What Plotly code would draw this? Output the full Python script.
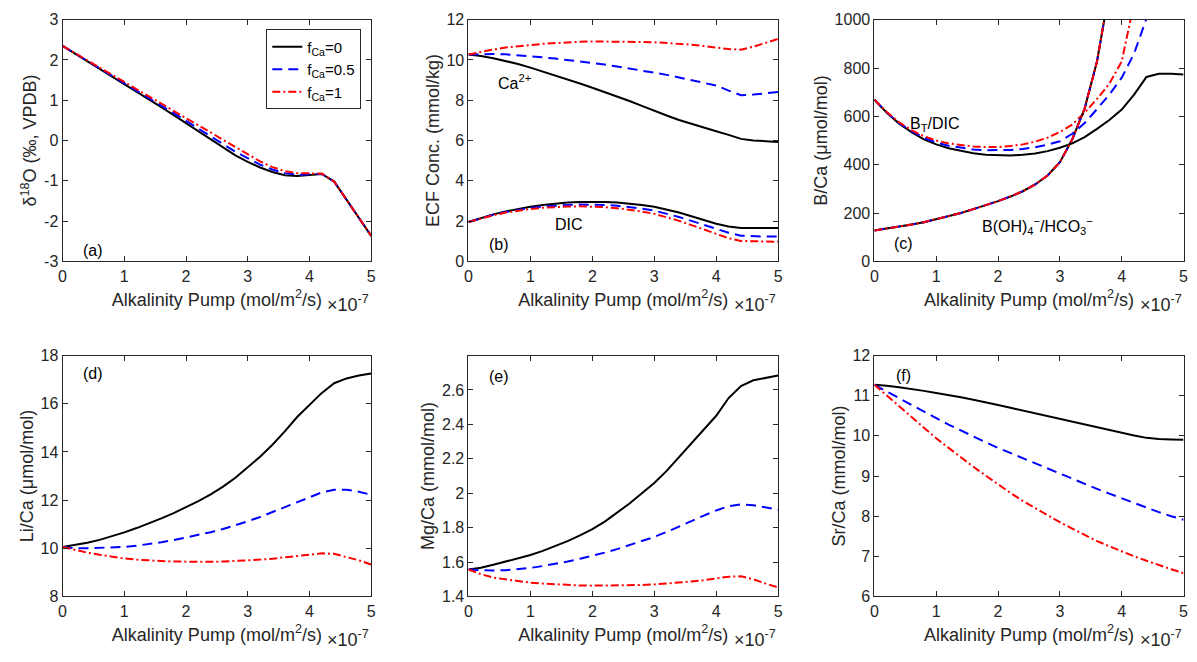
import plotly.graph_objects as go

# ---------------- data ----------------
pump = [0.0, 0.2, 0.4, 0.6, 0.8, 1.0, 1.2, 1.4, 1.6, 1.8, 2.0, 2.2, 2.4, 2.6, 2.8,
        3.0, 3.2, 3.4, 3.6, 3.8, 4.0, 4.2, 4.4, 4.6, 4.8, 5.0]
series_names = ["f<sub>Ca</sub>=0", "f<sub>Ca</sub>=0.5", "f<sub>Ca</sub>=1"]

d18o_f0 = [2.35, 2.16, 1.97, 1.79, 1.60, 1.42, 1.23, 1.03, 0.83, 0.63, 0.43, 0.22, 0.02,
           -0.17, -0.37, -0.53, -0.67, -0.78, -0.86, -0.88, -0.86, -0.83, -1.02, -1.47, -1.92, -2.37]
d18o_f05 = [2.35, 2.165, 1.98, 1.80, 1.62, 1.44, 1.25, 1.06, 0.87, 0.68, 0.49, 0.29, 0.10,
            -0.09, -0.28, -0.45, -0.60, -0.72, -0.81, -0.85, -0.84, -0.83, -1.02, -1.47, -1.92, -2.37]
d18o_f1 = [2.35, 2.17, 1.99, 1.81, 1.64, 1.46, 1.28, 1.10, 0.92, 0.74, 0.56, 0.37, 0.19,
           0.01, -0.17, -0.35, -0.52, -0.66, -0.76, -0.81, -0.82, -0.82, -1.02, -1.47, -1.92, -2.37]

ca_f0 = [10.27, 10.20, 10.09, 9.96, 9.80, 9.62, 9.43, 9.24, 9.04, 8.83, 8.62, 8.41, 8.19,
         7.96, 7.72, 7.47, 7.24, 7.02, 6.82, 6.63, 6.46, 6.28, 6.08, 6.00, 5.96, 5.93]
ca_f05 = [10.27, 10.30, 10.30, 10.28, 10.24, 10.19, 10.13, 10.07, 10.00, 9.93, 9.86, 9.77,
          9.68, 9.58, 9.48, 9.38, 9.26, 9.13, 9.00, 8.87, 8.73, 8.48, 8.25, 8.28, 8.35, 8.41]
ca_f1 = [10.27, 10.40, 10.52, 10.62, 10.69, 10.75, 10.80, 10.84, 10.88, 10.90, 10.92, 10.92,
         10.91, 10.90, 10.89, 10.88, 10.85, 10.81, 10.76, 10.69, 10.62, 10.54, 10.51, 10.66,
         10.85, 11.05]

dic_f0 = [1.95, 2.15, 2.33, 2.48, 2.60, 2.71, 2.80, 2.87, 2.92, 2.95, 2.96, 2.95, 2.92, 2.87,
          2.80, 2.71, 2.58, 2.42, 2.24, 2.05, 1.87, 1.73, 1.66, 1.65, 1.65, 1.65]
dic_f05 = [1.95, 2.14, 2.31, 2.45, 2.56, 2.65, 2.72, 2.77, 2.80, 2.82, 2.82, 2.80, 2.76, 2.70,
           2.62, 2.52, 2.37, 2.20, 2.01, 1.81, 1.61, 1.42, 1.27, 1.24, 1.23, 1.23]
dic_f1 = [1.95, 2.13, 2.29, 2.42, 2.52, 2.60, 2.66, 2.70, 2.72, 2.73, 2.72, 2.69, 2.64, 2.57,
          2.47, 2.36, 2.20, 2.01, 1.80, 1.58, 1.36, 1.15, 1.01, 0.99, 0.98, 0.97]

btdic_f0 = [669, 615, 570, 535, 505, 484, 468, 456, 447, 441, 438, 438, 441, 446, 456, 470,
            488, 514, 548, 585, 628, 690, 763, 776, 776, 773]
btdic_f05 = [669, 616, 572, 539, 511, 492, 478, 469, 463, 460, 460, 461, 465, 472, 483, 497,
             528, 572, 630, 690, 760, 860, 1005, 1180, 1380, 1600]
btdic_f1 = [669, 618, 575, 543, 518, 500, 488, 480, 475, 473, 473, 477, 484, 495, 512, 535,
            566, 615, 672, 735, 827, 1070, 1350, 1650, 1950, 2250]

bohco3_f0 = [128, 135, 143, 152, 162, 174, 186, 200, 216, 232, 249, 268, 290, 318, 355, 410,
             505, 632, 827, 1120, 1500, 1950, 2450, 3000, 3600, 4200]
bohco3_f05 = bohco3_f0
bohco3_f1 = bohco3_f0

lica_f0 = [10.05, 10.13, 10.23, 10.35, 10.50, 10.66, 10.84, 11.03, 11.24, 11.46, 11.70, 11.96,
           12.24, 12.56, 12.93, 13.35, 13.80, 14.30, 14.85, 15.45, 15.95, 16.45, 16.85, 17.05,
           17.17, 17.25]
lica_f05 = [10.05, 10.00, 10.00, 10.01, 10.03, 10.06, 10.11, 10.17, 10.25, 10.34, 10.44, 10.55,
            10.67, 10.80, 10.95, 11.12, 11.30, 11.50, 11.72, 11.93, 12.13, 12.32, 12.43, 12.43,
            12.35, 12.22]
lica_f1 = [10.05, 9.93, 9.82, 9.73, 9.65, 9.58, 9.53, 9.49, 9.47, 9.45, 9.44, 9.44, 9.44, 9.45,
           9.47, 9.50, 9.53, 9.57, 9.62, 9.68, 9.74, 9.79, 9.77, 9.65, 9.50, 9.33]

mgca_f0 = [1.557, 1.567, 1.584, 1.602, 1.620, 1.641, 1.665, 1.692, 1.722, 1.755, 1.792, 1.835,
           1.885, 1.940, 2.000, 2.060, 2.130, 2.210, 2.290, 2.370, 2.450, 2.553, 2.623, 2.656,
           2.672, 2.684]
mgca_f05 = [1.557, 1.552, 1.551, 1.553, 1.558, 1.566, 1.577, 1.589, 1.603, 1.619, 1.636, 1.655,
            1.675, 1.698, 1.721, 1.746, 1.775, 1.805, 1.838, 1.870, 1.900, 1.925, 1.935, 1.930,
            1.918, 1.905]
mgca_f1 = [1.557, 1.53, 1.51, 1.50, 1.49, 1.48, 1.475, 1.47, 1.466, 1.464, 1.463, 1.463, 1.463,
           1.465, 1.467, 1.47, 1.475, 1.48, 1.487, 1.495, 1.505, 1.515, 1.517, 1.50, 1.475, 1.452]

srca_f0 = [11.27, 11.25, 11.21, 11.17, 11.12, 11.07, 11.02, 10.96, 10.90, 10.84, 10.77, 10.70,
           10.63, 10.56, 10.49, 10.43, 10.36, 10.29, 10.22, 10.15, 10.08, 10.01, 9.95, 9.92,
           9.91, 9.90]
srca_f05 = [11.27, 11.10, 10.93, 10.77, 10.60, 10.44, 10.28, 10.13, 9.98, 9.84, 9.70, 9.57,
            9.44, 9.31, 9.18, 9.06, 8.93, 8.80, 8.68, 8.56, 8.44, 8.32, 8.20, 8.10, 8.00, 7.91]
srca_f1 = [11.27, 11.00, 10.73, 10.46, 10.20, 9.94, 9.70, 9.46, 9.23, 9.01, 8.79, 8.58, 8.38,
           8.20, 8.02, 7.85, 7.69, 7.53, 7.38, 7.25, 7.12, 7.00, 6.89, 6.78, 6.68, 6.58]

x_ticks = [0, 1, 2, 3, 4, 5]

# ---------------- styling ----------------
FONT = "Liberation Sans, Arial, Helvetica, sans-serif"
AX = "#262626"
colors = ["#000000", "#0000ff", "#ff0000"]
dashes = ["solid", "10px,6px", "8px,3px,2px,3px"]
widths = [2, 2, 2]

col_dom = [[59 / 1197, 370 / 1197], [468 / 1197, 780 / 1197], [877 / 1197, 1188.5 / 1197]]
row_dom = [[1 - 260 / 662, 1 - 12 / 662], [1 - 604 / 662, 1 - 356.7 / 662]]

fig = go.Figure()

panels = [
    ([-3, 3], [-3, -2, -1, 0, 1, 2, 3], ["-3", "-2", "-1", "0", "1", "2", "3"],
     "δ<sup>18</sup>O (‰, VPDB)"),
    ([0, 12], [0, 2, 4, 6, 8, 10, 12], None, "ECF Conc. (mmol/kg)"),
    ([0, 1000], [0, 200, 400, 600, 800, 1000], None, "B/Ca (μmol/mol)"),
    ([8, 18], [8, 10, 12, 14, 16, 18], None, "Li/Ca (μmol/mol)"),
    ([1.4, 2.8], [1.4, 1.6, 1.8, 2.0, 2.2, 2.4, 2.6],
     ["1.4", "1.6", "1.8", "2", "2.2", "2.4", "2.6"], "Mg/Ca (mmol/mol)"),
    ([6, 12], [6, 7, 8, 9, 10, 11, 12], None, "Sr/Ca (mmol/mol)"),
]

def add_series(ylists, k, legend=False):
    xa = "x" if k == 1 else f"x{k}"
    ya = "y" if k == 1 else f"y{k}"
    for i, yv in enumerate(ylists):
        fig.add_trace(go.Scatter(
            x=pump, y=yv, xaxis=xa, yaxis=ya, mode="lines",
            name=series_names[i], showlegend=legend, legendgroup=f"g{i}",
            line=dict(color=colors[i], width=widths[i], dash=dashes[i]),
        ))

add_series([d18o_f0, d18o_f05, d18o_f1], 1, legend=True)
add_series([ca_f0, ca_f05, ca_f1], 2)
add_series([dic_f0, dic_f05, dic_f1], 2)
add_series([btdic_f0, btdic_f05, btdic_f1], 3)
add_series([bohco3_f0, bohco3_f05, bohco3_f1], 3)
add_series([lica_f0, lica_f05, lica_f1], 4)
add_series([mgca_f0, mgca_f05, mgca_f1], 5)
add_series([srca_f0, srca_f05, srca_f1], 6)

layout = dict(
    width=1197, height=662,
    margin=dict(l=0, r=0, t=0, b=0),
    paper_bgcolor="white", plot_bgcolor="white",
    font=dict(family=FONT, size=16, color=AX),
    legend=dict(
        x=360 / 1197, y=1 - 22 / 662, xanchor="right", yanchor="top",
        bgcolor="white", bordercolor=AX, borderwidth=1,
        font=dict(family=FONT, size=15, color="#000000"),
        itemwidth=30, tracegroupgap=0,
    ),
    showlegend=True,
)

annotations = []
for k in range(1, 7):
    yr, ytv, ytt, ytitle = panels[k - 1]
    col = (k - 1) % 3
    row = 0 if k <= 3 else 1
    xname = "xaxis" if k == 1 else f"xaxis{k}"
    yname = "yaxis" if k == 1 else f"yaxis{k}"
    ya = "y" if k == 1 else f"y{k}"
    xa = "x" if k == 1 else f"x{k}"
    layout[xname] = dict(
        domain=col_dom[col], anchor=ya, range=[0, 5], tickvals=x_ticks,
        ticks="inside", ticklen=5, tickwidth=1, tickcolor=AX,
        showline=True, linecolor=AX, linewidth=1, mirror="ticks",
        showgrid=False, zeroline=False,
        tickfont=dict(family=FONT, size=16, color=AX),
        title=dict(text="Alkalinity Pump (mol/m<sup>2</sup>/s)",
                   font=dict(family=FONT, size=18, color=AX), standoff=9),
    )
    ydict = dict(
        domain=row_dom[row], anchor=xa, range=yr, tickvals=ytv,
        ticks="inside", ticklen=5, tickwidth=1, tickcolor=AX,
        showline=True, linecolor=AX, linewidth=1, mirror="ticks",
        showgrid=False, zeroline=False,
        tickfont=dict(family=FONT, size=16, color=AX),
        title=dict(text=ytitle, font=dict(family=FONT, size=18, color=AX), standoff=2),
    )
    if ytt is not None:
        ydict["ticktext"] = ytt
    layout[yname] = ydict
    annotations.append(dict(
        text="×10<sup>-7</sup>", xref=f"{xa} domain", yref=f"{ya} domain",
        x=1.0, y=-0.12, xanchor="right", yanchor="top", showarrow=False,
        font=dict(family=FONT, size=18, color=AX),
    ))

def label(k, text, x, y, xanchor="left", size=16):
    xa = "x" if k == 1 else f"x{k}"
    ya = "y" if k == 1 else f"y{k}"
    annotations.append(dict(text=text, x=x, y=y, xref=xa, yref=ya, xanchor=xanchor,
                            yanchor="middle", showarrow=False,
                            font=dict(family=FONT, size=size, color="#000000")))

label(1, "(a)", 0.3, -2.72)
label(2, "(b)", 0.3, 0.85)
label(2, "Ca<sup>2+</sup>", 0.45, 8.9)
label(2, "DIC", 1.36, 1.85)
label(3, "(c)", 0.28, 72)
label(3, "B<sub>T</sub>/DIC", 0.55, 565)
label(3, "B(OH)<sub>4</sub><sup>−</sup>/HCO<sub>3</sub><sup>−</sup>", 1.7, 145)
label(4, "(d)", 0.3, 17.25)
label(5, "(e)", 0.3, 2.68)
label(6, "(f)", 0.32, 11.5)

layout["annotations"] = annotations
fig.update_layout(**layout)
fig.write_html("out.html")
